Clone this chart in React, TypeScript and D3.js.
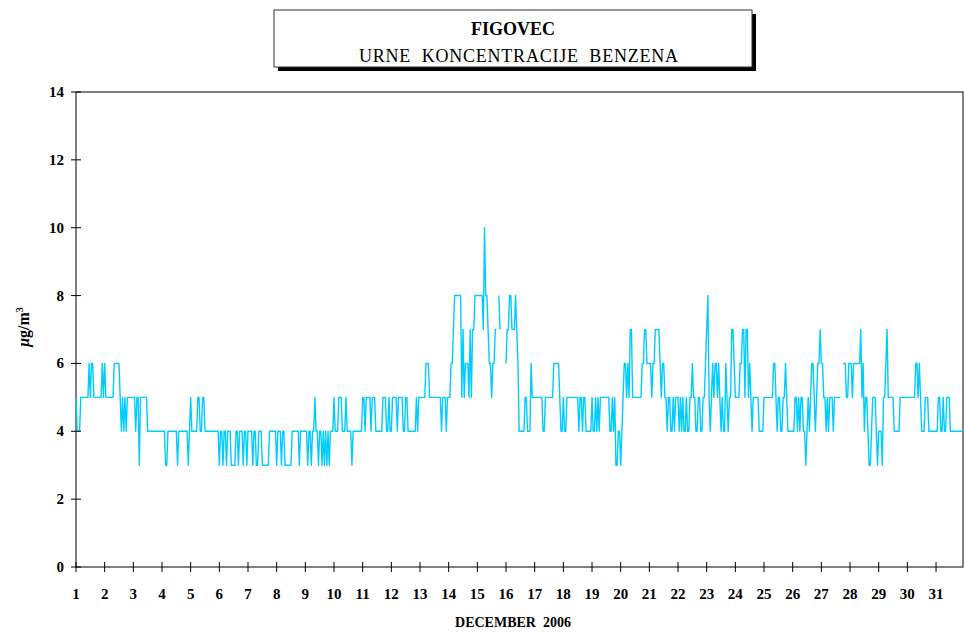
import React from 'react';
import * as d3 from 'd3';

// Hourly benzene concentrations (µg/m3), FIGOVEC, December 2006 — one row per day, 24 hours each
const hourlyDec: (number | null)[][] = [
  [5,4,4,4,5,5,5,5,5,5,5,6,5,6,6,5,5,5,5,5,5,5,6,5], // 1
  [6,5,5,5,5,5,5,5,6,6,6,6,6,5,4,5,4,5,4,5,5,5,5,5], // 2
  [5,5,4,5,5,3,5,5,5,5,5,5,4,4,4,4,4,4,4,4,4,4,4,4], // 3
  [4,4,4,3,3,4,4,4,4,4,4,4,4,3,4,4,4,4,4,4,4,4,3,4], // 4
  [5,4,4,4,4,4,5,5,4,4,5,5,4,4,4,4,4,4,4,4,4,4,4,4], // 5
  [3,4,4,3,4,4,3,4,4,4,3,3,3,3,4,4,3,4,4,4,3,4,4,3], // 6
  [4,4,4,4,3,4,4,3,3,4,4,4,3,3,3,3,3,3,4,4,4,4,4,4], // 7
  [3,4,4,4,3,4,4,3,3,3,3,3,3,4,4,4,4,4,4,3,4,4,4,4], // 8
  [4,4,3,4,4,3,4,4,5,4,4,3,4,4,3,4,3,4,3,4,3,4,4,4], // 9
  [5,4,4,4,5,5,5,4,4,4,5,4,4,4,4,3,4,4,4,4,4,4,4,4], // 10
  [5,5,4,5,5,5,5,4,5,5,5,4,4,4,4,4,4,5,5,5,4,4,5,4], // 11
  [4,5,5,5,5,4,5,5,5,5,4,4,5,5,4,4,4,4,4,4,4,5,4,5], // 12
  [5,5,5,5,5,6,6,6,5,5,5,5,5,5,5,5,5,5,4,5,5,5,4,5], // 13
  [5,5,6,6,7,8,8,8,8,8,8,5,7,5,6,6,6,5,7,5,7,7,8,8], // 14
  [8,8,8,8,8,7,10,8,8,7,6,6,5,6,6,7,7,null,8,7,null,null,null,null], // 15
  [6,7,7,8,8,7,7,7,8,7,6,4,4,4,4,4,5,5,4,4,4,6,5,5], // 16
  [5,5,5,5,5,5,5,4,4,5,5,5,5,5,5,5,6,6,6,6,6,5,4,4], // 17
  [5,4,4,5,5,5,5,5,5,5,5,5,5,4,5,5,4,5,5,4,4,4,4,4], // 18
  [5,4,4,5,4,5,4,5,5,5,5,5,5,5,5,4,4,5,4,5,3,3,4,4], // 19
  [3,4,5,6,6,5,6,5,7,7,5,5,5,5,5,5,5,5,6,6,7,7,6,6], // 20
  [6,6,5,6,6,7,7,7,7,6,5,6,6,5,5,4,5,5,4,4,5,4,5,5], // 21
  [5,4,5,4,5,4,4,5,4,4,5,5,6,5,5,4,4,5,5,4,4,5,5,6], // 22
  [7,8,5,4,5,6,5,6,6,5,6,5,4,5,4,4,6,5,4,5,5,7,7,6], // 23
  [5,5,5,5,6,6,7,7,5,7,7,5,6,5,4,5,5,5,5,5,4,4,4,4], // 24
  [5,5,5,5,5,5,5,5,6,6,5,4,5,5,4,4,5,5,6,5,4,4,4,4], // 25
  [4,4,5,5,4,5,4,5,5,4,4,3,4,5,4,5,6,6,5,4,5,6,6,7], // 26
  [6,6,5,5,4,5,4,5,5,5,4,5,5,5,5,5,5,null,6,6,6,5,5,6], // 27
  [6,6,5,6,6,6,6,6,6,7,5,6,4,5,5,4,3,3,4,5,5,5,4,3], // 28
  [4,4,4,3,5,5,6,7,5,5,5,5,5,4,4,4,4,4,5,5,5,5,5,5], // 29
  [5,5,5,5,5,5,5,6,6,5,6,5,4,4,4,5,5,5,4,4,4,4,4,4], // 30
  [4,4,5,5,4,4,5,4,4,5,5,5,4,4,4,4,4,4,4,4,4,4,4,4], // 31
];

const dayTicks: number[] = d3.range(1, 32);
const yTicks: number[] = [0, 2, 4, 6, 8, 10, 12, 14];
const titleMain = 'FIGOVEC';
const titleSub = 'URNE  KONCENTRACIJE  BENZENA';
const xAxisTitle = 'DECEMBER  2006';

type Pt = { t: number; v: number | null };

const SERIF = 'Liberation Serif, Times New Roman, serif';

export default function App() {
  const W = 964, H = 632;
  const left = 76, right = 963, top = 92, bottom = 567;
  const x = d3.scaleLinear().domain([1, 32]).range([left, 964.7]);
  const y = d3.scaleLinear().domain([0, 14]).range([bottom, top]);

  const pts: Pt[] = hourlyDec.flatMap((row, d) =>
    row.map((v, h) => ({ t: d + 1 + h / 24, v }))
  );
  const line = d3
    .line<Pt>()
    .defined((p) => p.v != null)
    .x((p) => x(p.t))
    .y((p) => y(p.v as number));

  return (
    <svg
      width={W}
      height={H}
      style={{ position: 'absolute', left: 0, top: 0, background: '#fff' }}
    >
      <rect x={0} y={0} width={W} height={H} fill="#fff" />
      {/* title box with shadow */}
      <rect x={278} y={14} width={478} height={57} fill="#000" />
      <rect x={274} y={10} width={478} height={57} fill="#fff" stroke="#333" strokeWidth={1} />
      <text x={513} y={35} textAnchor="middle" fontWeight="bold" fontSize={18} fontFamily={SERIF}>
        {titleMain}
      </text>
      <text
        x={359}
        y={62}
        fontSize={18}
        fontFamily={SERIF}
        textLength={319}
        lengthAdjust="spacing"
        style={{ whiteSpace: 'pre' }}
      >
        {titleSub}
      </text>

      {/* plot frame */}
      <rect x={left} y={top} width={right - left} height={bottom - top} fill="none" stroke="#000" strokeWidth={1} />

      {/* data line */}
      <path d={line(pts) || ''} fill="none" stroke="#00CCFF" strokeWidth={1.4} strokeLinejoin="round" />

      {/* y axis ticks */}
      {yTicks.map((v) => (
        <g key={'y' + v}>
          <line x1={left - 5} x2={left + 5} y1={y(v)} y2={y(v)} stroke="#000" strokeWidth={1} />
          <text x={64} y={y(v) + 5} textAnchor="end" fontWeight="bold" fontSize={15} fontFamily={SERIF}>
            {v}
          </text>
        </g>
      ))}

      {/* x axis ticks */}
      {dayTicks.map((d) => (
        <g key={'x' + d}>
          <line x1={x(d)} x2={x(d)} y1={bottom - 5} y2={bottom + 5} stroke="#000" strokeWidth={1} />
          <text x={x(d)} y={599} textAnchor="middle" fontWeight="bold" fontSize={15} fontFamily={SERIF}>
            {d}
          </text>
        </g>
      ))}

      <text
        x={513}
        y={627}
        textAnchor="middle"
        fontWeight="bold"
        fontSize={14}
        fontFamily={SERIF}
        style={{ whiteSpace: 'pre' }}
      >
        {xAxisTitle}
      </text>

      {/* y axis title */}
      <text
        transform="translate(29,327) rotate(-90)"
        textAnchor="middle"
        fontWeight="bold"
        fontSize={16}
        fontFamily={SERIF}
      >
        <tspan fontStyle="italic">μ</tspan>
        <tspan>g/m</tspan>
        <tspan dy={-6} fontSize={10}>3</tspan>
      </text>
    </svg>
  );
}
